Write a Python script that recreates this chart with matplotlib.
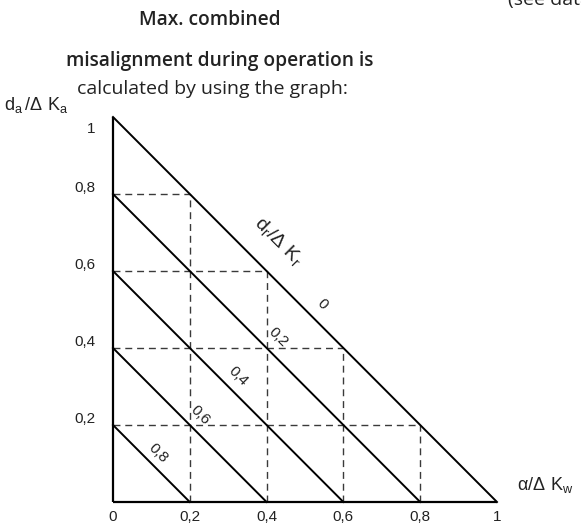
import matplotlib
matplotlib.use("Agg")
import matplotlib.pyplot as plt

# diagonal lines: alpha/dKw + da/dKa = 1 - dr/dKr
radial_values = [0, 0.2, 0.4, 0.6, 0.8]
radial_labels = ["0", "0,2", "0,4", "0,6", "0,8"]
# label centres along each line (data coords)
label_pos = [(0.545, 0.513), (0.431, 0.429), (0.326, 0.326), (0.226, 0.226), (0.117, 0.126)]

grid_steps = [0.2, 0.4, 0.6, 0.8]
tick_values = [0, 0.2, 0.4, 0.6, 0.8, 1]
tick_labels = ["0", "0,2", "0,4", "0,6", "0,8", "1"]

plt.rcParams['font.family'] = ['Liberation Sans', 'DejaVu Sans']
plt.rcParams['mathtext.fontset'] = 'custom'
plt.rcParams['mathtext.rm'] = 'Liberation Sans'

fig = plt.figure(figsize=(5.81, 5.29), dpi=100)
ax = fig.add_axes([113 / 581, 27 / 529, 384 / 581, 385 / 529])
ax.set_xlim(0, 1)
ax.set_ylim(0, 1)
ax.axis('off')

# dashed helper grid
for s in grid_steps:
    ax.plot([s, s], [0, 1 - s], color='#3a3a3a', lw=1.0, dashes=(5, 3.5), clip_on=False)
    ax.plot([0, 1 - s], [s, s], color='#3a3a3a', lw=1.0, dashes=(5, 3.5), clip_on=False)

# axes
ax.plot([0, 0], [0, 1], color='black', lw=1.6, clip_on=False, solid_capstyle='butt')
ax.plot([0, 1], [0, 0], color='black', lw=1.6, clip_on=False, solid_capstyle='butt')

# diagonals
for r in radial_values:
    ax.plot([0, 1 - r], [1 - r, 0], color='black', lw=1.4, clip_on=False)

for lab, (x, y) in zip(radial_labels, label_pos):
    ax.text(x, y, lab, rotation=-45, ha='center', va='center', fontsize=11,
            rotation_mode='anchor', color='#222222')

ax.text(0.431, 0.678, r'$\mathregular{d_r/\Delta\ K_r}$', rotation=-45, ha='center',
        va='center', fontsize=14, rotation_mode='anchor', color='#222222')

# tick labels
for v, lab in zip(tick_values, tick_labels):
    ax.text(v, -0.04, lab, ha='center', va='center', fontsize=11, color='#222222')
for v, lab in zip(tick_values[1:], tick_labels[1:]):
    dy = -0.03 if v == 1 else 0.015
    ax.text(-0.045, v + dy, lab, ha='right', va='center', fontsize=11, color='#222222')

# axis names
ax.text(-0.2, 1.03, r'$\mathregular{d_a\,/\Delta\ K_a}$', ha='center', va='center',
        fontsize=13, color='#222222')
ax.text(1.125, 0.045, r'$\mathregular{\alpha/\Delta\ K_w}$', ha='center', va='center',
        fontsize=13, color='#222222')

# heading
fig.text(210 / 581, 1 - 20 / 529, "Max. combined", ha='center', va='center',
         fontsize=13.8, fontweight=600, family='Open Sans', color='#222222')
fig.text(220 / 581, 1 - 61 / 529, "misalignment during operation is", ha='center', va='center',
         fontsize=13.8, fontweight=600, family='Open Sans', color='#222222')
fig.text(212 / 581, 1 - 89 / 529, "calculated by using the graph:", ha='center', va='center',
         fontsize=14, family='Open Sans', color='#222222')
fig.text(0.875, 1.0, "(see data", ha='left', va='center', fontsize=14,
         family='Open Sans', color='#222222')

fig.savefig("out.png", dpi=100)
